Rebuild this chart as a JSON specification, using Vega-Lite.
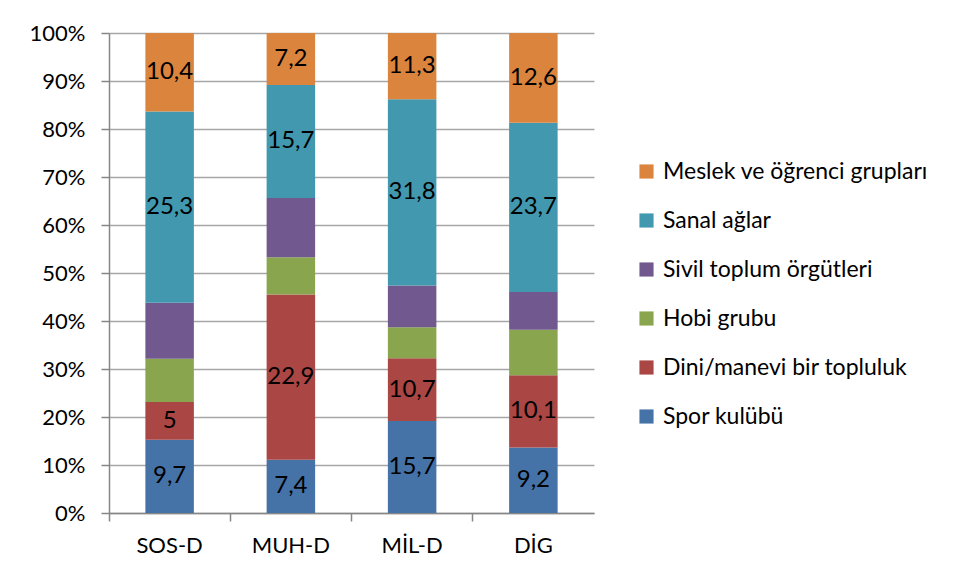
{
  "$schema": "https://vega.github.io/schema/vega-lite/v6.json",
  "width": 485,
  "height": 480,
  "autosize": {"type": "none"},
  "padding": {"left": 109, "top": 33, "right": 363, "bottom": 67},
  "background": "white",
  "config": {
    "font": "Lato",
    "view": {"stroke": null}
  },
  "data": {
    "values": [
      {"bolum": "SOS-D", "grup": "Spor kulübü", "sira": 1, "deger": 9.7, "etiket": "9,7"},
      {"bolum": "SOS-D", "grup": "Dini/manevi bir topluluk", "sira": 2, "deger": 5, "etiket": "5"},
      {"bolum": "SOS-D", "grup": "Hobi grubu", "sira": 3, "deger": 5.7, "etiket": ""},
      {"bolum": "SOS-D", "grup": "Sivil toplum örgütleri", "sira": 4, "deger": 7.4, "etiket": ""},
      {"bolum": "SOS-D", "grup": "Sanal ağlar", "sira": 5, "deger": 25.3, "etiket": "25,3"},
      {"bolum": "SOS-D", "grup": "Meslek ve öğrenci grupları", "sira": 6, "deger": 10.4, "etiket": "10,4"},
      {"bolum": "MUH-D", "grup": "Spor kulübü", "sira": 1, "deger": 7.4, "etiket": "7,4"},
      {"bolum": "MUH-D", "grup": "Dini/manevi bir topluluk", "sira": 2, "deger": 22.9, "etiket": "22,9"},
      {"bolum": "MUH-D", "grup": "Hobi grubu", "sira": 3, "deger": 5.2, "etiket": ""},
      {"bolum": "MUH-D", "grup": "Sivil toplum örgütleri", "sira": 4, "deger": 8.2, "etiket": ""},
      {"bolum": "MUH-D", "grup": "Sanal ağlar", "sira": 5, "deger": 15.7, "etiket": "15,7"},
      {"bolum": "MUH-D", "grup": "Meslek ve öğrenci grupları", "sira": 6, "deger": 7.2, "etiket": "7,2"},
      {"bolum": "MİL-D", "grup": "Spor kulübü", "sira": 1, "deger": 15.7, "etiket": "15,7"},
      {"bolum": "MİL-D", "grup": "Dini/manevi bir topluluk", "sira": 2, "deger": 10.7, "etiket": "10,7"},
      {"bolum": "MİL-D", "grup": "Hobi grubu", "sira": 3, "deger": 5.3, "etiket": ""},
      {"bolum": "MİL-D", "grup": "Sivil toplum örgütleri", "sira": 4, "deger": 7.1, "etiket": ""},
      {"bolum": "MİL-D", "grup": "Sanal ağlar", "sira": 5, "deger": 31.8, "etiket": "31,8"},
      {"bolum": "MİL-D", "grup": "Meslek ve öğrenci grupları", "sira": 6, "deger": 11.3, "etiket": "11,3"},
      {"bolum": "DİG", "grup": "Spor kulübü", "sira": 1, "deger": 9.2, "etiket": "9,2"},
      {"bolum": "DİG", "grup": "Dini/manevi bir topluluk", "sira": 2, "deger": 10.1, "etiket": "10,1"},
      {"bolum": "DİG", "grup": "Hobi grubu", "sira": 3, "deger": 6.4, "etiket": ""},
      {"bolum": "DİG", "grup": "Sivil toplum örgütleri", "sira": 4, "deger": 5.3, "etiket": ""},
      {"bolum": "DİG", "grup": "Sanal ağlar", "sira": 5, "deger": 23.7, "etiket": "23,7"},
      {"bolum": "DİG", "grup": "Meslek ve öğrenci grupları", "sira": 6, "deger": 12.6, "etiket": "12,6"}
    ]
  },
  "transform": [
    {"stack": "deger", "groupby": ["bolum"], "sort": [{"field": "sira", "order": "ascending"}], "as": ["y0", "y1"], "offset": "normalize"},
    {"calculate": "(datum.y0 + datum.y1) / 2", "as": "ymid"}
  ],
  "encoding": {
    "x": {
      "field": "bolum",
      "type": "nominal",
      "sort": ["SOS-D", "MUH-D", "MİL-D", "DİG"],
      "scale": {"paddingInner": 0, "paddingOuter": 0},
      "axis": {
        "title": null,
        "labelAngle": 0,
        "labelFontSize": 22,
        "labelColor": "#000000",
        "labelPadding": 14,
        "bandPosition": 0,
        "tickSize": 8,
        "tickColor": "#868686",
        "tickWidth": 1.5,
        "domainColor": "#868686",
        "domainWidth": 1.5,
        "grid": false
      }
    }
  },
  "layer": [
    {
      "mark": {"type": "bar", "width": {"band": 0.4}},
      "encoding": {
        "y": {
          "field": "y1",
          "type": "quantitative",
          "scale": {"domain": [0, 1]},
          "axis": {
            "title": null,
            "values": [0, 0.1, 0.2, 0.3, 0.4, 0.5, 0.6, 0.7, 0.8, 0.9, 1],
            "format": ".0%",
            "labelFontSize": 22,
            "labelColor": "#000000",
            "labelPadding": 16,
            "tickSize": 8,
            "tickColor": "#868686",
            "tickWidth": 1.5,
            "domainColor": "#868686",
            "domainWidth": 1.5,
            "gridColor": "#A6A6A6",
            "gridWidth": 1.5
          }
        },
        "y2": {"field": "y0"},
        "color": {
          "field": "grup",
          "type": "nominal",
          "scale": {
            "domain": ["Meslek ve öğrenci grupları", "Sanal ağlar", "Sivil toplum örgütleri", "Hobi grubu", "Dini/manevi bir topluluk", "Spor kulübü"],
            "range": ["#DB843D", "#4198AF", "#71588F", "#89A54E", "#AA4643", "#4572A7"]
          },
          "legend": {
            "title": null,
            "orient": "none",
            "legendX": 526,
            "legendY": 127,
            "symbolType": "square",
            "symbolSize": 200,
            "symbolStrokeWidth": 0,
            "labelFontSize": 23,
            "labelColor": "#000000",
            "labelOffset": 5,
            "rowPadding": 25,
            "labelLimit": 400
          }
        }
      }
    },
    {
      "mark": {"type": "text", "fontSize": 24, "color": "#000000", "baseline": "middle", "align": "center"},
      "encoding": {
        "y": {"field": "ymid", "type": "quantitative"},
        "text": {"field": "etiket"}
      }
    }
  ]
}
